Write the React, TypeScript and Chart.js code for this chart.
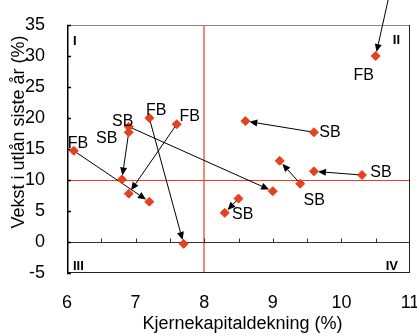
import React, { useEffect, useRef } from "react";
import { Chart, registerables } from "chart.js";

Chart.register(...registerables);

// ---- data ----
const pointX = [6.1, 6.9, 6.9, 7.2, 7.6, 10.5, 9.6, 10.3, 9.4, 8.5, 6.8, 6.9, 7.2, 7.7, 8.6, 9.1, 9.6, 9.0, 8.3, 10.7];
const pointY = [14.7, 18.6, 17.7, 20.0, 19.0, 30.0, 17.7, 10.8, 9.4, 7.0, 10.1, 7.8, 6.5, -0.3, 19.5, 13.1, 11.4, 8.2, 4.7, 40];
const pointLabel = ["FB", "SB", "SB", "FB", "FB", "FB", "SB", "SB", "SB", "", "", "", "", "", "", "", "", "", "SB", ""];
const arrowFrom = [0, 1, 2, 3, 4, 19, 6, 8, 7, 9];
const arrowTo = [12, 17, 10, 13, 11, 5, 14, 15, 16, 18];
const quadrantLabels = ["I", "II", "III", "IV"];
const xTicks = [6, 7, 8, 9, 10, 11];
const yTicks = [-5, 0, 5, 10, 15, 20, 25, 30, 35];
const refX = 8;
const refY = 10;
const xTitle = "Kjernekapitaldekning (%)";
const yTitle = "Vekst i utlån siste år (%)";

// ---- layout (label offsets in px) ----
const labelDx = [4, -6, -22, 7, 13, -12, 16, 19, 14, 0, 0, 0, 0, 0, 0, 0, 0, 0, 18, 0];
const labelDy = [-7, -5, 6, -7, -8, 20, 0, -2, 17, 0, 0, 0, 0, 0, 0, 0, 0, 0, 2, 0];

const FONT = "'Liberation Sans', Arial, sans-serif";
const RED = "#e8401c";

const overlay = {
  id: "overlay",
  beforeDatasetsDraw(chart: any) {
    const { ctx, chartArea: a, scales } = chart;
    const xs = scales.x, ys = scales.y;
    ctx.save();
    // reference lines
    ctx.strokeStyle = "#f28a7a";
    ctx.lineWidth = 2;
    const rx = Math.round(xs.getPixelForValue(refX));
    ctx.beginPath(); ctx.moveTo(rx, a.top); ctx.lineTo(rx, a.bottom); ctx.stroke();
    ctx.strokeStyle = "#ee3b26";
    ctx.lineWidth = 1.2;
    const ry = Math.round(ys.getPixelForValue(refY)) + 0.5;
    ctx.beginPath(); ctx.moveTo(a.left, ry); ctx.lineTo(a.right, ry); ctx.stroke();

    // frame
    ctx.lineWidth = 1;
    ctx.strokeStyle = "#888";
    ctx.beginPath(); ctx.moveTo(a.left, a.top + 0.5); ctx.lineTo(a.right, a.top + 0.5); ctx.stroke();
    ctx.strokeStyle = "#222";
    ctx.beginPath(); ctx.moveTo(a.right - 0.5, a.top); ctx.lineTo(a.right - 0.5, a.bottom); ctx.stroke();
    ctx.beginPath(); ctx.moveTo(a.left, a.bottom - 0.5); ctx.lineTo(a.right, a.bottom - 0.5); ctx.stroke();
    // zero line with ticks
    const y0 = Math.round(ys.getPixelForValue(0)) + 0.5;
    ctx.strokeStyle = "#333";
    ctx.beginPath(); ctx.moveTo(a.left, y0); ctx.lineTo(a.right, y0); ctx.stroke();
    for (let v = xs.min + 0.5; v < xs.max; v += 0.5) {
      const px = Math.round(xs.getPixelForValue(v)) + 0.5;
      ctx.beginPath(); ctx.moveTo(px, y0); ctx.lineTo(px, y0 - 4); ctx.stroke();
    }
    // left axis with inward ticks
    ctx.strokeStyle = "#000";
    ctx.lineWidth = 1.5;
    ctx.beginPath(); ctx.moveTo(a.left + 0.75, a.top); ctx.lineTo(a.left + 0.75, a.bottom); ctx.stroke();
    yTicks.forEach((v) => {
      const py = Math.round(ys.getPixelForValue(v)) + 0.5;
      ctx.beginPath(); ctx.moveTo(a.left, py); ctx.lineTo(a.left + 4, py); ctx.stroke();
    });

    // arrows
    ctx.strokeStyle = "#000";
    ctx.fillStyle = "#000";
    ctx.lineWidth = 1;
    arrowFrom.forEach((f, i) => {
      const t = arrowTo[i];
      const x1 = xs.getPixelForValue(pointX[f]);
      const y1 = ys.getPixelForValue(pointY[f]);
      const x2 = xs.getPixelForValue(pointX[t]);
      const y2 = ys.getPixelForValue(pointY[t]);
      const dx = x2 - x1, dy = y2 - y1;
      const len = Math.hypot(dx, dy);
      const ux = dx / len, uy = dy / len;
      const gap = 4;
      const tx = x2 - ux * gap, ty = y2 - uy * gap;
      const hl = 8, hw = 3.5;
      const bx = tx - ux * hl, by = ty - uy * hl;
      ctx.beginPath(); ctx.moveTo(x1, y1); ctx.lineTo(bx, by); ctx.stroke();
      ctx.beginPath();
      ctx.moveTo(tx, ty);
      ctx.lineTo(bx - uy * hw, by + ux * hw);
      ctx.lineTo(bx + uy * hw, by - ux * hw);
      ctx.closePath();
      ctx.fill();
    });
    ctx.restore();
  },
  afterDatasetsDraw(chart: any) {
    const { ctx, chartArea: a, scales } = chart;
    const xs = scales.x, ys = scales.y;
    ctx.save();
    ctx.fillStyle = "#000";
    ctx.textBaseline = "middle";
    // point labels
    ctx.font = `16px ${FONT}`;
    ctx.textAlign = "center";
    pointLabel.forEach((lab, i) => {
      if (!lab) return;
      const px = xs.getPixelForValue(pointX[i]) + labelDx[i];
      const py = ys.getPixelForValue(pointY[i]) + labelDy[i];
      ctx.fillText(lab, px, py);
    });
    // quadrant labels
    ctx.font = `bold 13px ${FONT}`;
    ctx.textAlign = "left";
    ctx.fillText(quadrantLabels[0], a.left + 6, a.top + 16);
    ctx.fillText(quadrantLabels[2], a.left + 6, a.bottom - 7);
    ctx.textAlign = "right";
    ctx.fillText(quadrantLabels[1], a.right - 10, a.top + 15);
    ctx.fillText(quadrantLabels[3], a.right - 12, a.bottom - 7);
    // x tick labels and title
    ctx.font = `18px ${FONT}`;
    ctx.textAlign = "center";
    xTicks.forEach((v) => {
      ctx.fillText(String(v), xs.getPixelForValue(v), a.bottom + 30);
    });
    ctx.fillText(xTitle, (a.left + a.right) / 2 + 4, a.bottom + 51);
    // y title
    ctx.translate(19, 132);
    ctx.rotate(-Math.PI / 2);
    ctx.fillText(yTitle, 0, 0);
    ctx.restore();
  },
};

export default function App() {
  const ref = useRef<HTMLCanvasElement | null>(null);
  useEffect(() => {
    const canvas = ref.current;
    if (!canvas) return;
    const data = pointX.map((x, i) => ({ x, y: pointY[i] }));
    const chart = new Chart(canvas, {
      type: "scatter",
      data: {
        datasets: [
          {
            data,
            pointStyle: "rectRot",
            pointRadius: 4.5,
            pointHoverRadius: 4.5,
            backgroundColor: RED,
            borderColor: RED,
            borderWidth: 1,
          },
        ],
      },
      options: {
        responsive: false,
        animation: false,
        events: [],
        layout: { padding: { top: 25, right: 7, left: 0, bottom: 0 } },
        plugins: { legend: { display: false }, tooltip: { enabled: false } },
        scales: {
          x: {
            type: "linear",
            min: 6,
            max: 11,
            afterBuildTicks: (s: any) => { s.ticks = xTicks.map((v) => ({ value: v })); },
            afterFit: (s: any) => { s.height = 63; s.paddingLeft = 0; s.paddingRight = 0; },
            grid: { display: false },
            border: { display: false },
            ticks: { display: false },
            title: { display: false },
          },
          y: {
            type: "linear",
            min: -5,
            max: 35,
            afterBuildTicks: (s: any) => { s.ticks = yTicks.map((v) => ({ value: v })); },
            afterFit: (s: any) => { s.width = 67; s.paddingTop = 0; s.paddingBottom = 0; },
            grid: { display: false },
            border: { display: false },
            ticks: { font: { size: 18, family: FONT }, color: "#000", padding: 14 },
          },
        },
      },
      plugins: [overlay],
    });
    return () => chart.destroy();
  }, []);
  return (
    <div style={{ position: "fixed", left: 0, top: 0, width: 417, height: 336, background: "#fff" }}>
      <canvas ref={ref} width={417} height={336} style={{ display: "block" }} />
    </div>
  );
}
